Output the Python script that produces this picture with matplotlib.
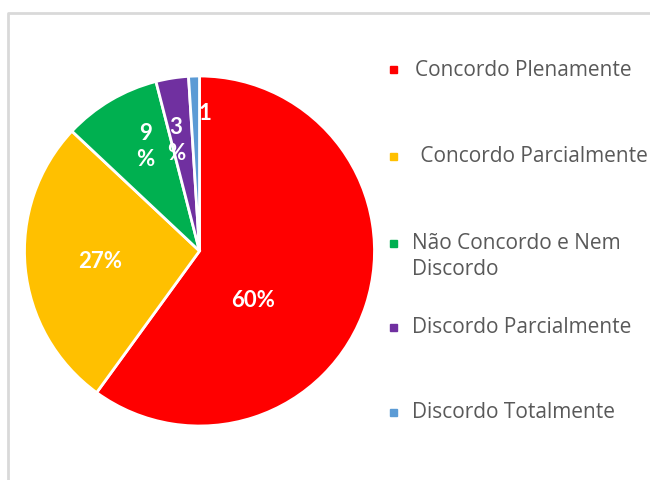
import matplotlib.pyplot as plt
from matplotlib.lines import Line2D
from matplotlib.patches import Rectangle
import numpy as np

categories = ['Concordo Plenamente', ' Concordo Parcialmente', 'Não Concordo e Nem\nDiscordo',
              'Discordo Parcialmente', 'Discordo Totalmente']
values = [60, 27, 9, 3, 1]
pct_labels = ['60%', '27%', '9\n%', '3\n%', '1']
colors = ['#FF0000', '#FFC000', '#00B050', '#7030A0', '#5B9BD5']

plt.rcParams['font.family'] = ['Lato', 'DejaVu Sans']

W, H = 650, 481
fig = plt.figure(figsize=(6.5, 4.81), dpi=100)

# pie axes: center ~ (199.5, 252) px, radius ~175 px
cx, cy, r = 199.5, 252, 175
ax = fig.add_axes([(cx - r) / W, (H - cy - r) / H, 2 * r / W, 2 * r / H])
wedges, _ = ax.pie(values, colors=colors, startangle=90, counterclock=False,
                   wedgeprops=dict(edgecolor='white', linewidth=2))
ax.set_xlim(-1, 1)
ax.set_ylim(-1, 1)
ax.axis('off')

# label placement (angle offset in deg, radial distance) per slice
label_pos = [(-24, 0.41), (0, 0.57), (-3.5, 0.68), (3, 0.65), (-4, 0.79)]
for w, lab, (da, rr) in zip(wedges, pct_labels, label_pos):
    ang = np.deg2rad((w.theta1 + w.theta2) / 2 + da)
    ax.text(rr * np.cos(ang), rr * np.sin(ang), lab, ha='center', va='center',
            color='white', fontsize=16, fontweight='bold', linespacing=1.3)

# legend, laid out like the Excel one
leg_y = [70, 157, 244, 328, 413]
leg_x = [415, 415, 412, 412, 412]
for c, lab, y, x in zip(colors, categories, leg_y, leg_x):
    fig.add_artist(Rectangle(((393 - 3.5) / W, (H - y - 3.5) / H), 7 / W, 7 / H,
                             color=c, transform=fig.transFigure))
    if '\n' in lab:
        fig.text(x / W, (H - y + 11) / H, lab, ha='left', va='top',
                 color='#595959', fontsize=15, family=['Open Sans', 'DejaVu Sans'],
                 linespacing=1.3, transform=fig.transFigure)
    else:
        fig.text(x / W, (H - y) / H, lab, ha='left', va='center',
                 color='#595959', fontsize=15, family=['Open Sans', 'DejaVu Sans'],
                 transform=fig.transFigure)

# faint chart-area border
fig.add_artist(Line2D([8 / W, 8 / W, 1], [0, (H - 14) / H, (H - 14) / H],
                      color='#d9d9d9', lw=2, transform=fig.transFigure))

fig.savefig('out.png', dpi=100)
